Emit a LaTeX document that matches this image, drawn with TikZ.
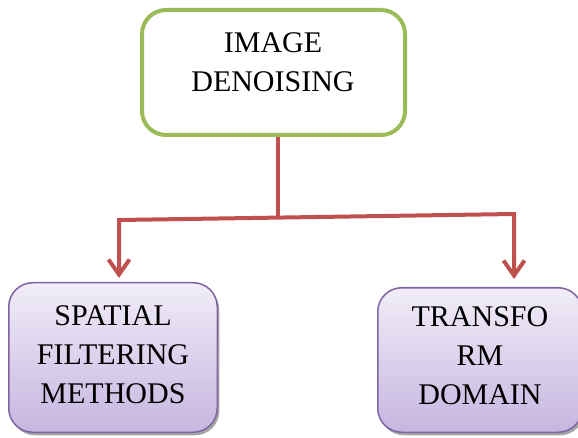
\documentclass[tikz,border=0pt]{standalone}
\usepackage{fontspec}
\setmainfont{Liberation Serif}
\usetikzlibrary{arrows.meta,shadows}
\definecolor{rootgreen}{HTML}{9BBB59}
\definecolor{linkred}{HTML}{C0504D}
\definecolor{leafpurple}{HTML}{8064A2}
\definecolor{leaftop}{HTML}{F1EDF8}
\definecolor{leafbottom}{HTML}{C6B6E0}

\begin{document}
\begin{tikzpicture}[x=1pt, y=-1pt, >={Straight Barb[length=15pt, width=21pt]},
        rootbox/.style={draw=rootgreen, line width=4pt, rounded corners=24pt, fill=white,
                minimum width=263pt, minimum height=125pt},
        leafbox/.style={draw=leafpurple, line width=1.5pt, rounded corners=24pt,
                top color=leaftop, bottom color=leafbottom,
                drop shadow={shadow xshift=2pt, shadow yshift=-3pt, opacity=.7, fill=gray}},
        boxtext/.style={align=center, inner sep=0pt, font=\fontsize{30}{39}\selectfont},
        link/.style={draw=linkred, line width=4pt}]
        \useasboundingbox (0, 0) rectangle (578, 438);

        % boxes
        \node [rootbox] (root) at (273.5, 72.5) {};
        \node [leafbox, minimum width=208.5pt, minimum height=149.5pt] (spatial) at (113, 357.5) {};
        \node [leafbox, minimum width=204.5pt, minimum height=144.5pt] (transform) at (480, 360) {};

        % texts
        \node [boxtext] (roottext) at (273, 62.5) {IMAGE\\DENOISING};
        \node [boxtext] (spatialtext) at (113, 355) {SPATIAL\\FILTERING\\METHODS};
        \node [boxtext] (transformtext) at (480, 355.5) {TRANSFO\\RM\\DOMAIN};

        % connectors
        \coordinate (lc) at (119, 220);
        \coordinate (rc) at (514, 214);
        \coordinate (jn) at (278, 217.6);
        \draw [link] (root.south -| jn) -- (jn);
        \draw [link, ->, shorten >=4pt] (jn) -- (lc) -- (lc |- spatial.north);
        \draw [link, ->, shorten >=8pt] (jn) -- (rc) -- (rc |- transform.north);
    \end{tikzpicture}
\end{document}
